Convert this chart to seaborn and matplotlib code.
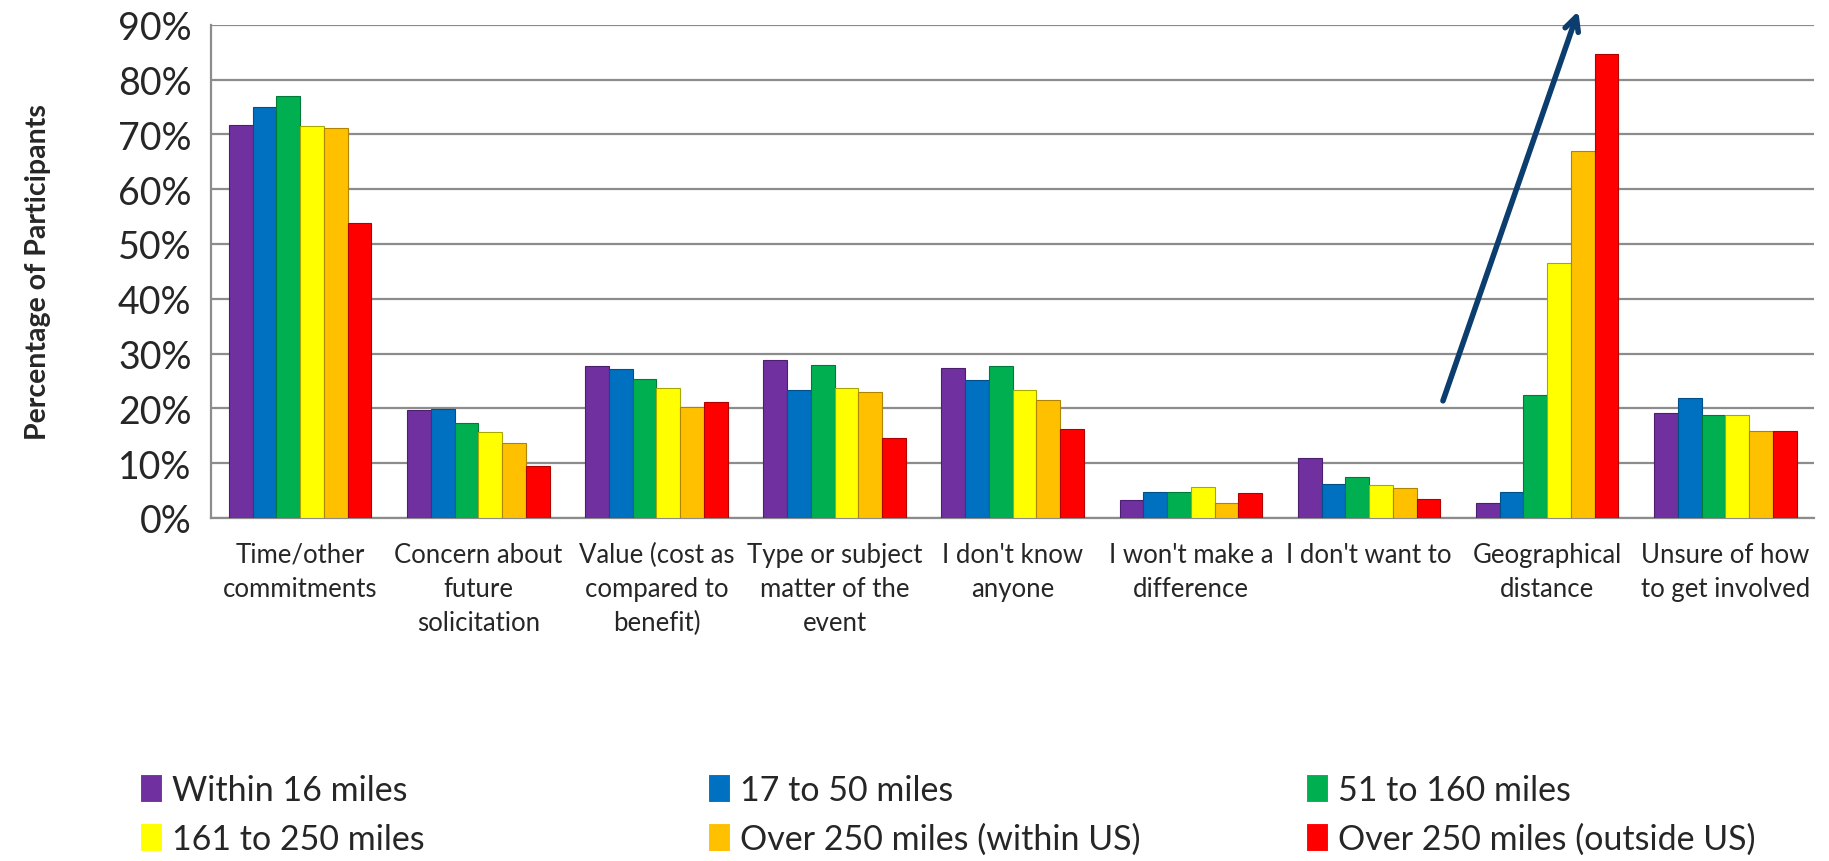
import matplotlib
matplotlib.use("Agg")
import matplotlib.pyplot as plt
import seaborn as sns
import numpy as np
import pandas as pd
from matplotlib.ticker import FuncFormatter, FixedLocator

# Data (percent of participants)
reasons = [
    "Time/other\ncommitments",
    "Concern about\nfuture\nsolicitation",
    "Value (cost as\ncompared to\nbenefit)",
    "Type or subject\nmatter of the\nevent",
    "I don't know\nanyone",
    "I won't make a\ndifference",
    "I don't want to",
    "Geographical\ndistance",
    "Unsure of how\nto get involved",
]
distances = [
    "Within 16 miles",
    "17 to 50 miles",
    "51 to 160 miles",
    "161 to 250 miles",
    "Over 250 miles (within US)",
    "Over 250 miles (outside US)",
]
within_16 = [71.8, 19.7, 27.8, 28.8, 27.3, 3.2, 10.9, 2.7, 19.2]
mi_17_50 = [75.0, 19.9, 27.2, 23.4, 25.2, 4.8, 6.2, 4.8, 21.9]
mi_51_160 = [77.1, 17.4, 25.3, 27.9, 27.8, 4.8, 7.5, 22.5, 18.7]
mi_161_250 = [71.6, 15.7, 23.8, 23.8, 23.4, 5.7, 6.1, 46.5, 18.7]
over_250_us = [71.1, 13.7, 20.2, 23.0, 21.6, 2.8, 5.5, 67.0, 15.8]
over_250_intl = [53.8, 9.5, 21.1, 14.6, 16.2, 4.5, 3.5, 84.6, 15.8]
colors = ["#7030A0", "#0070C0", "#00B050", "#FFFF00", "#FFC000", "#FF0000"]
edge_colors = ["#4b1f6e", "#00508a", "#007a38", "#a8a800", "#b08400", "#b00000"]

series = [within_16, mi_17_50, mi_51_160, mi_161_250, over_250_us, over_250_intl]
rows = []
for dist, vals in zip(distances, series):
    for reason, v in zip(reasons, vals):
        rows.append({"reason": reason, "distance": dist, "pct": v})
df = pd.DataFrame(rows)

sns.set_style("white")
plt.rcParams["font.family"] = ["Lato", "DejaVu Sans"]

fig = plt.figure(figsize=(18.29, 8.62), dpi=100)
ax = fig.add_axes([0.1154, 0.398, 0.8766, 0.572])

sns.barplot(data=df, x="reason", y="pct", hue="distance", order=reasons,
            hue_order=distances, palette=colors, saturation=1, width=0.8,
            linewidth=0.8, ax=ax, zorder=3)

# darker outline per series, like the bevelled originals
for container, ec in zip(ax.containers, edge_colors):
    for bar in container:
        bar.set_edgecolor(ec)

ax.set_ylim(0, 90)
ax.set_xlim(-0.5, len(reasons) - 0.5)
ax.yaxis.set_major_locator(FixedLocator(np.arange(0, 91, 10)))
ax.yaxis.set_major_formatter(FuncFormatter(lambda v, p: f"{v:.0f}%"))
ax.grid(axis="y", color="#8c8c8c", linewidth=1.6, zorder=0)
ax.set_axisbelow(True)

for side in ["top", "right"]:
    ax.spines[side].set_visible(False)
for side in ["left", "bottom"]:
    ax.spines[side].set_color("#8c8c8c")
    ax.spines[side].set_linewidth(1.6)

ax.tick_params(axis="y", direction="inout", length=12, width=1.6,
               color="#8c8c8c", labelsize=27, pad=8)
ax.tick_params(axis="x", which="major", length=0, labelsize=18.5, pad=17)
ax.set_xticks(np.arange(-0.5, len(reasons)), minor=True)
ax.tick_params(axis="x", which="minor", direction="out", length=10,
               width=1.6, color="#8c8c8c")
for lbl in ax.get_xticklabels():
    lbl.set_verticalalignment("top")
    lbl.set_linespacing(1.45)

ax.set_xlabel("")
ax.set_ylabel("Percentage of Participants", fontsize=20.5, fontweight="bold",
              labelpad=48)

# arrow over the geographical distance group
ax.annotate("", xy=(7.18, 93), xytext=(6.41, 20.9),
            arrowprops=dict(arrowstyle="->,head_length=1.0,head_width=0.5",
                            color="#0B3D6E", lw=4),
            annotation_clip=False, zorder=5)

handles, labels = ax.get_legend_handles_labels()
ax.legend_.remove()
# legend laid out row-wise in three columns
col_x = [0.0766, 0.387, 0.714]
for c, x in enumerate(col_x):
    idx = [c, c + 3]
    fig.legend([handles[i] for i in idx], [labels[i] for i in idx],
               loc="center left", bbox_to_anchor=(x, 0.054), frameon=False,
               fontsize=24.5, handlelength=0.65, handleheight=0.9,
               handletextpad=0.3, labelspacing=0.5, borderpad=0,
               borderaxespad=0)

fig.savefig("out.png", dpi=100, facecolor="white")
